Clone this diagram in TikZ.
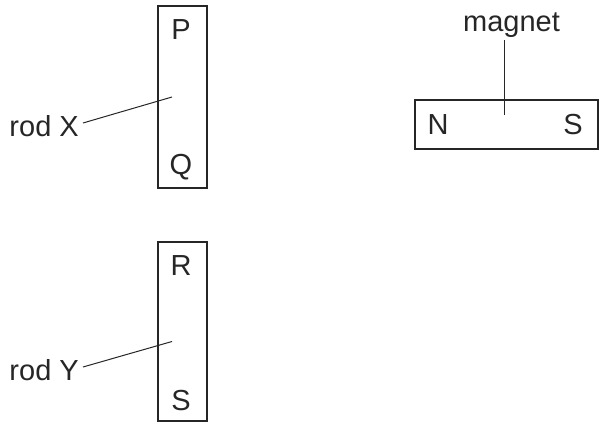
\documentclass[tikz,border=0pt]{standalone}
\usepackage{fontspec}
\setmainfont{Liberation Sans}
\begin{document}
\begin{tikzpicture}[x=1pt,y=-1pt,
  box/.style={draw=black!85,line width=2pt},
  lbl/.style={inner sep=0pt,font=\fontsize{29}{32}\selectfont,text=black!85},
  lead/.style={draw=black!85,line width=1pt}]
\useasboundingbox (0,0) rectangle (602,423);
% rod X
\node[box,minimum width=49pt,minimum height=182pt,inner sep=0pt] (rodx) at (182,97) {};
\node[lbl] (P) at (181,30) {P};
\node[lbl] (Q) at (181,167) {Q};
\node[lbl,anchor=east] (rx) at (79,126) {rod X};
\coordinate (rxend) at (172,97);
\draw[lead] (rx.east) ++(4,-3) -- (rxend);
% rod Y
\node[box,minimum width=49pt,minimum height=179pt,inner sep=0pt] (rody) at (182,331.5) {};
\node[lbl] (R) at (181,266) {R};
\node[lbl] (S) at (181,401) {S};
\node[lbl,anchor=east] (ry) at (79,370) {rod Y};
\coordinate (ryend) at (172,341.5);
\draw[lead] (ry.east) ++(4,-3) -- (ryend);
% magnet
\node[box,minimum width=183pt,minimum height=49pt,inner sep=0pt] (mag) at (506.5,124.5) {};
\node[lbl] (N) at (438,125) {N};
\node[lbl] (Sm) at (573,125) {S};
\node[lbl] (mt) at (511.5,25) {magnet};
\coordinate (mend) at (504,115);
\draw[lead] (504,40) -- (mend);
\end{tikzpicture}
\end{document}
